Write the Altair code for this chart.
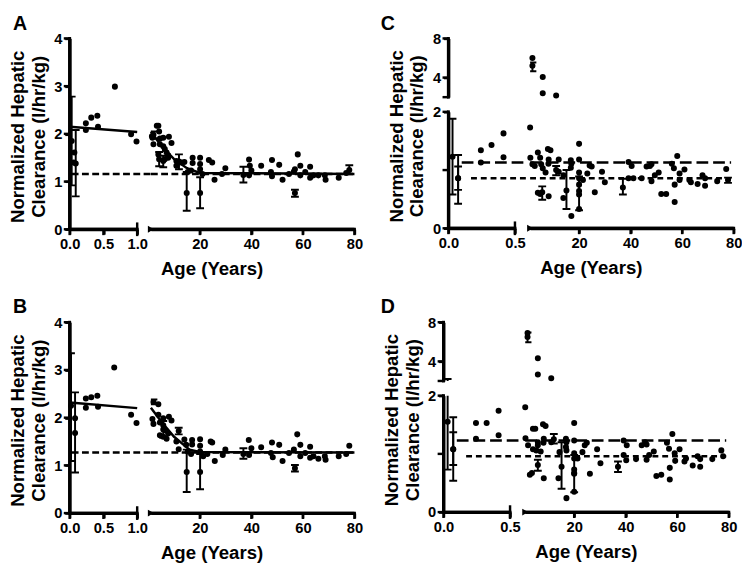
import altair as alt
import pandas as pd

FONT = "Liberation Sans"

# ---------------- Panel A ----------------
A_left_age = [0.07, 0.06, 0.24, 0.24, 0.32, 0.41, 0.42, 0.67, 0.91, 0.99]
A_left_val = [1.61, 1.40, 2.22, 2.08, 2.34, 2.38, 2.15, 2.99, 1.99, 1.84]
A_left_eb_age = [0.03, 0.09]
A_left_eb_mean = [1.85, 1.38]
A_left_eb_low = [0.92, 0.69]
A_left_eb_high = [2.78, 2.08]
A_right_age = [1.4, 1.6, 2.0, 3.3, 3.9, 4.2, 4.5, 5.8, 8.0, 9.0, 4.5, 5.8, 6.4, 7.1, 7.7, 3.9,
               6.4, 7.7, 10.9, 10.9, 12.8, 14.0, 17.2, 17.2, 15.3, 16.6, 20.1, 20.1, 20.1, 21.0,
               23.5, 24.8, 25.7, 29.9, 28.6, 39.1, 39.4, 39.1, 40.0, 43.8, 48.0, 47.6, 48.0, 50.8,
               52.1, 54.6, 56.5, 56.9, 58.0, 59.0, 59.0, 60.9, 62.8, 62.8, 64.1, 66.0, 68.5, 68.8,
               73.9, 76.8]
A_right_val = [1.95, 1.92, 1.78, 2.17, 2.17, 2.05, 1.90, 1.92, 1.94, 1.81, 1.78, 1.74, 1.68, 1.61,
               1.55, 1.57, 1.47, 1.50, 1.43, 1.33, 1.40, 1.41, 1.50, 1.39, 1.20, 1.23, 1.50, 1.37,
               1.26, 1.16, 1.45, 1.40, 1.04, 1.28, 1.16, 1.46, 1.33, 1.13, 1.23, 1.33, 1.45, 1.20,
               1.11, 1.35, 1.04, 1.16, 1.21, 1.26, 1.57, 1.33, 1.13, 1.20, 1.31, 1.08, 1.13, 1.13,
               1.13, 1.04, 1.08, 1.18]
A_right_eb_age = [2.0, 4.2, 5.8, 11.9, 14.9, 20.1, 36.9, 56.9, 78.0]
A_right_eb_mean = [1.98, 1.47, 1.43, 1.42, 0.76, 0.76, 1.14, 0.76, 1.24]
A_right_eb_low = [1.90, 1.32, 1.30, 1.26, 0.39, 0.44, 0.98, 0.68, 1.16]
A_right_eb_high = [2.05, 1.62, 1.54, 1.57, 1.20, 1.09, 1.31, 0.83, 1.34]
A_fit_left_age = [0.0, 1.0]
A_fit_left_val = [2.15, 2.04]
A_fit_right_age = [1, 5, 10, 15, 20, 80]
A_fit_right_val = [2.05, 1.75, 1.47, 1.28, 1.18, 1.16]
A_dash = 1.16

# ---------------- Panel B ----------------
B_left_age = [0.08, 0.24, 0.24, 0.32, 0.41, 0.42, 0.66, 0.91, 0.99]
B_left_val = [1.68, 2.40, 2.21, 2.43, 2.46, 2.23, 3.05, 2.06, 1.89]
B_left_eb_age = [0.02, 0.08]
B_left_eb_mean = [2.25, 1.99]
B_left_eb_low = [1.09, 0.85]
B_left_eb_high = [3.35, 2.53]
B_right_age = [3.9, 1.6, 2.0, 3.9, 5.8, 8.0, 9.0, 4.5, 5.8, 4.5, 5.8, 7.1, 7.7, 6.7, 10.9, 11.8,
               14.0, 14.7, 17.0, 17.0, 15.3, 16.6, 20.1, 20.1, 20.1, 21.3, 22.9, 24.2, 24.8, 25.8,
               28.9, 29.9, 39.0, 39.1, 40.0, 43.8, 48.0, 47.6, 48.3, 50.8, 52.1, 54.6, 56.5, 57.8,
               59.0, 59.0, 60.9, 62.8, 62.8, 64.1, 66.0, 68.5, 68.8, 73.9, 78.0, 76.8]
B_right_val = [2.28, 1.97, 1.87, 2.06, 1.99, 2.02, 1.94, 1.90, 1.84, 1.63, 1.60, 1.56, 1.67, 1.73,
               1.50, 1.34, 1.54, 1.43, 1.53, 1.44, 1.29, 1.24, 1.55, 1.41, 1.29, 1.19, 1.24, 1.50,
               1.48, 1.09, 1.22, 1.33, 1.53, 1.22, 1.36, 1.38, 1.48, 1.26, 1.17, 1.43, 1.09, 1.26,
               1.33, 1.65, 1.43, 1.19, 1.26, 1.39, 1.16, 1.19, 1.14, 1.19, 1.12, 1.19, 1.41, 1.24]
B_right_eb_age = [2.0, 5.8, 11.8, 14.9, 20.1, 36.9, 56.9]
B_right_eb_mean = [2.33, 1.75, 1.72, 0.86, 0.86, 1.24, 0.94]
B_right_eb_low = [2.28, 1.58, 1.65, 0.44, 0.50, 1.14, 0.87]
B_right_eb_high = [2.38, 1.93, 1.79, 1.33, 1.24, 1.36, 1.01]
B_fit_left_age = [0.0, 1.0]
B_fit_left_val = [2.32, 2.20]
B_fit_right_age = [1, 5, 10, 16, 20, 80]
B_fit_right_val = [2.21, 1.92, 1.60, 1.33, 1.28, 1.27]
B_dash = 1.27

# ---------------- Panel C ----------------
C_left_age = [0.244, 0.244, 0.324, 0.414, 0.414]
C_left_val = [1.34, 1.13, 1.43, 1.63, 1.22]
C_left_eb_age = [0.031, 0.073, 0.073]
C_left_eb_mean = [1.23, 0.86, 0.86]
C_left_eb_low = [0.58, 0.42, 0.66]
C_left_eb_high = [1.88, 1.26, 1.06]
C_right_age = [1.9, 5.9, 5.9, 11.1, 1.0, 1.1, 1.9, 2.8, 4.0, 4.9, 5.3, 5.9, 7.0, 7.9, 8.9, 8.2, 8.1,
               12.1, 12.1, 4.0, 4.9, 8.2, 13.9, 13.9, 16.8, 17.0, 16.8, 17.0, 20.0, 20.0, 20.0,
               20.0, 20.0, 20.0, 20.0, 21.5, 23.2, 24.1, 24.9, 26.1, 28.9, 30.0, 39.2, 40.4, 39.2,
               41.1, 44.3, 46.2, 47.5, 48.1, 48.1, 49.4, 50.9, 51.9, 53.8, 56.0, 56.8, 57.1, 57.1,
               58.1, 59.0, 59.0, 60.9, 62.8, 63.4, 66.0, 67.9, 68.9, 68.9, 73.6, 77.1]
C_right_val = [6.0, 4.06, 2.4, 2.16, 1.73, 1.21, 1.10, 1.07, 1.30, 1.21, 1.10, 1.03, 0.96, 1.36,
               1.34, 1.18, 1.11, 1.18, 0.97, 0.61, 0.59, 0.55, 0.91, 0.52, 1.17, 1.11, 1.04, 0.21,
               1.45, 1.18, 0.96, 0.86, 0.75, 0.64, 0.33, 0.83, 0.94, 1.08, 1.06, 0.62, 0.97, 0.79,
               1.14, 1.07, 0.86, 0.86, 0.86, 1.06, 1.07, 1.10, 0.81, 0.91, 0.96, 0.59, 0.59, 1.11,
               1.03, 0.75, 0.45, 1.24, 0.94, 0.83, 1.01, 0.83, 0.79, 0.76, 0.91, 0.86, 0.73, 0.81,
               1.02]
C_right_eb_age = [1.9, 5.7, 11.1, 15.1, 20.0, 37.0, 77.8]
C_right_eb_mean = [5.2, 0.62, 1.00, 0.65, 0.58, 0.70, 0.83]
C_right_eb_low = [4.65, 0.49, 0.91, 0.33, 0.31, 0.58, 0.78]
C_right_eb_high = [5.55, 0.72, 1.07, 1.00, 0.89, 0.85, 0.87]
C_dash_long = 1.13
C_dash_short = 0.86

# ---------------- Panel D ----------------
D_left_age = [0.244, 0.324, 0.244, 0.414, 0.414]
D_left_val = [1.53, 1.53, 1.26, 1.74, 1.32]
D_left_eb_age = [0.031, 0.073, 0.073]
D_left_eb_mean = [1.55, 1.08, 1.08]
D_left_eb_low = [0.73, 0.54, 0.81]
D_left_eb_high = [2.2, 1.63, 1.37]
D_right_age = [1.9, 5.9, 5.9, 11.1, 1.0, 1.1, 2.1, 4.0, 4.9, 4.0, 5.9, 5.9, 7.0, 5.3, 7.9, 8.9, 8.2,
               8.1, 11.1, 2.8, 3.6, 8.2, 14.3, 13.9, 17.0, 16.8, 17.0, 16.8, 17.0, 20.0, 20.0, 20.0,
               20.0, 20.0, 20.0, 20.0, 21.3, 23.2, 24.1, 24.9, 26.1, 28.9, 30.2, 39.2, 40.4, 39.2,
               40.2, 44.0, 46.2, 47.5, 48.1, 48.1, 49.1, 50.9, 51.9, 53.8, 56.0, 56.8, 57.1, 57.1,
               58.1, 59.0, 59.2, 60.9, 62.8, 63.4, 66.0, 67.9, 68.9, 68.9, 73.6, 77.1, 77.8]
D_right_val = [6.9, 4.33, 2.67, 2.27, 1.80, 1.27, 1.15, 1.43, 1.43, 1.08, 1.20, 1.15, 1.04, 1.06,
               1.51, 1.48, 1.26, 1.19, 1.20, 0.64, 0.67, 0.58, 1.03, 0.58, 0.24, 1.26, 1.20, 1.12,
               1.06, 1.53, 1.23, 1.01, 0.92, 0.73, 0.67, 0.35, 0.92, 1.03, 1.15, 1.19, 0.66, 1.08,
               0.84, 1.23, 1.15, 0.98, 0.89, 0.91, 1.15, 1.20, 1.16, 0.90, 0.98, 1.04, 0.62, 0.64,
               1.19, 1.09, 0.76, 0.56, 1.34, 1.01, 0.88, 1.08, 0.87, 0.92, 0.80, 0.96, 0.91, 0.78,
               0.91, 1.06, 0.96]
D_right_eb_age = [1.9, 5.9, 12.1, 15.1, 20.0, 37.0]
D_right_eb_mean = [6.5, 0.81, 1.25, 0.78, 0.66, 0.78]
D_right_eb_low = [5.95, 0.71, 1.18, 0.40, 0.34, 0.69]
D_right_eb_high = [6.95, 0.90, 1.34, 1.20, 0.98, 0.87]
D_dash_long = 1.23
D_dash_short = 0.96

# ---------------- shared text / ticks ----------------
Y_TITLE = ["Normalized Hepatic", "Clearance (l/hr/kg)"]
X_TITLE = "Age (Years)"
X_TICKS_LEFT_AB = [0, 0.5, 1.0]
X_TICKS_LEFT_CD = [0, 0.5]
X_TICKS_RIGHT = [20, 40, 60, 80]
Y_TICKS_AB = [0, 1, 2, 3, 4]
Y_TICKS_LOW = [0, 1, 2]
Y_TICKS_UP = [4, 8]
LONG = [12, 5]
SHORT = [6, 4]
MID = [7, 3.5]
INK = "#000000"


def frame(**cols):
    return pd.DataFrame(cols)


def segment(xdom, ydom, w, h, xaxis, yaxis, pts=None, eb=None, dashes=(), fit=None,
            marker=False, title=None, xticks=None, yticks=None, xline=False, yline=False,
            xbreak=False):
    xs = alt.Scale(domain=xdom, nice=False, zero=False)
    ys = alt.Scale(domain=ydom, nice=False, zero=False)

    def X(f):
        return alt.X(f, type="quantitative", scale=xs, axis=xaxis)

    def Y(f):
        return alt.Y(f, type="quantitative", scale=ys, axis=yaxis)

    lo, hi = ydom
    layers = []
    for level, x0, x1, pattern in dashes:
        d = frame(x0=[x0], x1=[x1], y=[level])
        layers.append(alt.Chart(d).mark_rule(color=INK, strokeWidth=2.5, strokeDash=pattern)
                      .encode(x=X("x0"), x2="x1", y=Y("y")))
    if fit is not None:
        d = frame(age=fit[0], val=fit[1])
        layers.append(alt.Chart(d).mark_line(color=INK, strokeWidth=2.5)
                      .encode(x=X("age"), y=Y("val")))
    if eb is not None:
        d = frame(age=eb[0], mean=eb[1], low=eb[2], high=eb[3])
        layers.append(alt.Chart(d).mark_rule(color=INK, strokeWidth=2, clip=True)
                      .encode(x=X("age"), y=Y("low"), y2="high"))
        for end in ("low", "high"):
            layers.append(alt.Chart(d).mark_rule(color=INK, strokeWidth=2, clip=True,
                                                 xOffset=-4, x2Offset=4)
                          .encode(x=X("age"), x2="age", y=Y(end)))
        dm = d[(d["mean"] >= lo) & (d["mean"] <= hi)]
        if len(dm):
            layers.append(alt.Chart(dm).mark_circle(color=INK, size=38, opacity=1)
                          .encode(x=X("age"), y=Y("mean")))
    if pts is not None:
        d = frame(age=pts[0], val=pts[1])
        d = d[(d["val"] >= lo) & (d["val"] <= hi)]
        if len(d):
            layers.append(alt.Chart(d).mark_circle(color=INK, size=38, opacity=1)
                          .encode(x=X("age"), y=Y("val")))
    if marker:
        d = frame(age=[xdom[0]], val=[ydom[0]])
        layers.append(alt.Chart(d).mark_point(shape="triangle-right", filled=True, size=50,
                                              color=INK, opacity=1)
                      .encode(x=X("age"), y=Y("val")))
    # axis lines (as filled bars and as rules), ticks and break caps, drawn on top
    if xline:
        d = frame(lx0=[xdom[0]], lx1=[xdom[1]], ly=[ydom[0]])
        layers.append(alt.Chart(d).mark_rect(color=INK, opacity=1, xOffset=-1.5, x2Offset=1.5,
                                             yOffset=-1.5, y2Offset=1.5)
                      .encode(x=X("lx0"), x2="lx1", y=Y("ly"), y2="ly"))
        layers.append(alt.Chart(d).mark_rule(color=INK, strokeWidth=3)
                      .encode(x=X("lx0"), x2="lx1", y=Y("ly")))
    if yline:
        d = frame(vx=[xdom[0]], vy0=[ydom[0]], vy1=[ydom[1]])
        layers.append(alt.Chart(d).mark_rect(color=INK, opacity=1, xOffset=-1.5, x2Offset=1.5,
                                             yOffset=1.5, y2Offset=-1.5)
                      .encode(x=X("vx"), x2="vx", y=Y("vy0"), y2="vy1"))
        layers.append(alt.Chart(d).mark_rule(color=INK, strokeWidth=3)
                      .encode(x=X("vx"), y=Y("vy0"), y2="vy1"))
    if xticks:
        d = frame(tx=xticks, ty=[ydom[0]] * len(xticks))
        layers.append(alt.Chart(d).mark_rule(color=INK, strokeWidth=2.5, y2Offset=6)
                      .encode(x=X("tx"), y=Y("ty"), y2="ty"))
    if yticks:
        d = frame(ux=[xdom[0]] * len(yticks), uy=yticks)
        layers.append(alt.Chart(d).mark_rule(color=INK, strokeWidth=2.5, x2Offset=-6)
                      .encode(x=X("ux"), x2="ux", y=Y("uy")))
    if xbreak:
        d = frame(bx=[xdom[1]], by=[ydom[0]])
        layers.append(alt.Chart(d).mark_rule(color=INK, strokeWidth=2.5, yOffset=-7, y2Offset=7)
                      .encode(x=X("bx"), y=Y("by"), y2="by"))
    ch = alt.layer(*layers).properties(width=w, height=h)
    if title is not None:
        ch = ch.properties(title=title)
    return ch


def letter(t, dx):
    return alt.TitleParams(text=t, anchor="start", frame="group", dx=dx, offset=-18,
                           fontSize=20, font=FONT, fontWeight="bold", color=INK,
                           baseline="alphabetic")


AX = dict(domainColor=INK, domainWidth=3, tickColor=INK, tickWidth=2.5, tickSize=5,
          labelFlush=False, grid=False)


def x_left(values):
    return alt.Axis(values=values, format=".1f", title=None, **AX)


def x_right(tx):
    return alt.Axis(values=X_TICKS_RIGHT, format="d", title=X_TITLE, titleX=tx, titleY=46,
                    titleAngle=0, titleAlign="center", titleBaseline="alphabetic", **AX)


def y_main(values, ty):
    return alt.Axis(values=values, format="d", title=Y_TITLE, titleX=-43, titleY=ty,
                    titleAngle=270, titleAlign="center", titleBaseline="bottom",
                    titleLineHeight=21, **AX)


def simple_panel(lab, dx, la, lv, lea, lem, lel, leh, ra, rv, rea, rem, rel, reh,
                 fla, flv, fra, frv, dash):
    H = 195
    left = segment([0, 1], [0, 4], 69, H, x_left(X_TICKS_LEFT_AB), y_main(Y_TICKS_AB, 100),
                   pts=(la, lv), eb=(lea, lem, lel, leh),
                   dashes=[(dash, 0.03, 1.2, MID)], fit=(fla, flv), title=letter(lab, dx),
                   xticks=X_TICKS_LEFT_AB, yticks=Y_TICKS_AB, xline=True, yline=True,
                   xbreak=True)
    right = segment([1, 80], [0, 4], 208, H, x_right(62), None,
                    pts=(ra, rv), eb=(rea, rem, rel, reh),
                    dashes=[(dash, 1, 80, MID)], fit=(fra, frv), marker=True,
                    xticks=X_TICKS_RIGHT, xline=True)
    return alt.hconcat(left, right, spacing=14, bounds="flush")


def broken_panel(lab, dx, la, lv, lea, lem, lel, leh, ra, rv, rea, rem, rel, reh, dl, ds):
    WL, WR, HU, HL = 68, 208, 60, 119
    ul = segment([0, 0.5], [2, 8], WL, HU, None,
                 alt.Axis(values=Y_TICKS_UP, format="d", title=None, **AX),
                 pts=(la, lv), eb=(lea, lem, lel, leh), title=letter(lab, dx),
                 yticks=[2] + Y_TICKS_UP, yline=True)
    ur = segment([1, 80], [2, 8], WR, HU, None, None, pts=(ra, rv), eb=(rea, rem, rel, reh))
    ll = segment([0, 0.5], [0, 2], WL, HL, x_left(X_TICKS_LEFT_CD), y_main(Y_TICKS_LOW, 24.5),
                 pts=(la, lv), eb=(lea, lem, lel, leh),
                 dashes=[(dl, 0.1, 0.6, LONG), (ds, 0.17, 0.6, SHORT)],
                 xticks=X_TICKS_LEFT_CD, yticks=Y_TICKS_LOW, xline=True, yline=True,
                 xbreak=True)
    lr = segment([1, 80], [0, 2], WR, HL, x_right(62), None,
                 pts=(ra, rv), eb=(rea, rem, rel, reh),
                 dashes=[(dl, 1, 79, LONG), (ds, 1, 79, SHORT)], marker=True,
                 xticks=X_TICKS_RIGHT, xline=True)
    return alt.concat(ul, ur, ll, lr, columns=2, spacing={"row": 15, "column": 15.5},
                      bounds="flush", align="each")


A = simple_panel("A", -58, A_left_age, A_left_val, A_left_eb_age, A_left_eb_mean, A_left_eb_low,
                 A_left_eb_high, A_right_age, A_right_val, A_right_eb_age, A_right_eb_mean,
                 A_right_eb_low, A_right_eb_high, A_fit_left_age, A_fit_left_val,
                 A_fit_right_age, A_fit_right_val, A_dash)
B = simple_panel("B", -58, B_left_age, B_left_val, B_left_eb_age, B_left_eb_mean, B_left_eb_low,
                 B_left_eb_high, B_right_age, B_right_val, B_right_eb_age, B_right_eb_mean,
                 B_right_eb_low, B_right_eb_high, B_fit_left_age, B_fit_left_val,
                 B_fit_right_age, B_fit_right_val, B_dash)
C = broken_panel("C", -69, C_left_age, C_left_val, C_left_eb_age, C_left_eb_mean, C_left_eb_low,
                 C_left_eb_high, C_right_age, C_right_val, C_right_eb_age, C_right_eb_mean,
                 C_right_eb_low, C_right_eb_high, C_dash_long, C_dash_short)
D = broken_panel("D", -64, D_left_age, D_left_val, D_left_eb_age, D_left_eb_mean, D_left_eb_low,
                 D_left_eb_high, D_right_age, D_right_val, D_right_eb_age, D_right_eb_mean,
                 D_right_eb_low, D_right_eb_high, D_dash_long, D_dash_short)

chart = alt.vconcat(
    alt.hconcat(A, C, spacing=18),
    alt.hconcat(B, D, spacing=18),
    spacing=20,
).properties(
    padding=0
).configure_view(stroke=None).configure_axis(
    labelFont=FONT, labelFontSize=15, labelFontWeight="bold", labelColor=INK,
    labelPadding=3, titleFont=FONT, titleFontSize=19, titleFontWeight="bold",
    titleColor=INK,
)

chart.save("out.html", embed_options={"renderer": "svg", "actions": False})
